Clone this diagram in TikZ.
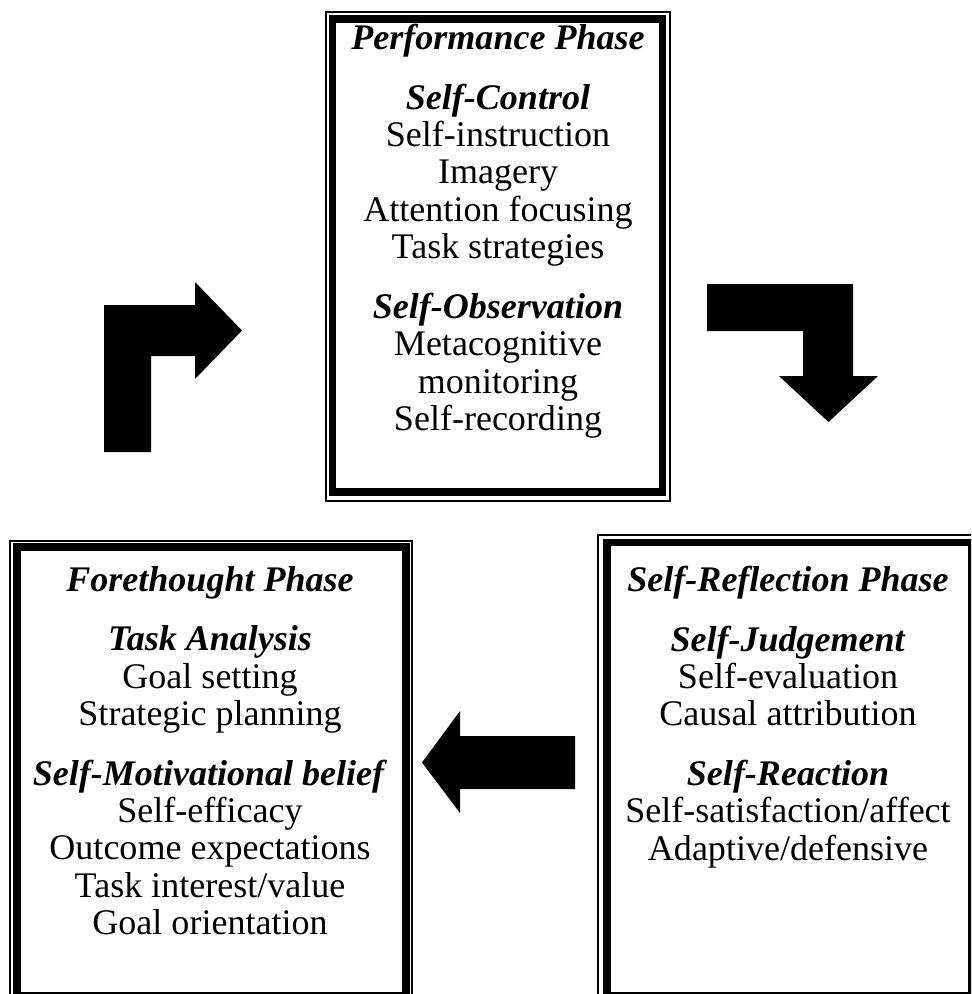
\documentclass[tikz,border=0pt]{standalone}
\usepackage{fontspec}
\setmainfont{Liberation Serif}

\tikzset{
  thinframe/.style={draw=black, line width=1.1pt},
  thickframe/.style={draw=black, line width=4pt},
  phasetext/.style={align=center, inner sep=0pt, anchor=north,
    font=\fontsize{20.5pt}{21.3pt}\selectfont},
  blockarrow/.style={fill=black}
}
\newcommand{\hd}[1]{\textbf{\textit{#1}}}

\begin{document}
\begin{tikzpicture}[x=0.02cm, y=-0.02cm]
 \clip (0,0) rectangle (971,994);

 % frames
 \draw[thinframe] (326,12) rectangle (670,501);
 \draw[thickframe] (332.5,19) rectangle (662.5,492);
 \draw[thinframe] (10,541) rectangle (412,1003);
 \draw[thickframe] (17,547) rectangle (406,996);
 \draw[thinframe] (598,535) rectangle (978,1003);
 \draw[thickframe] (607,542.5) rectangle (972,996);

 % phases
 \node[phasetext] (perf) at (498,24) {\hd{Performance Phase}\\[0.44cm]
   \hd{Self-Control}\\ Self-instruction\\ Imagery\\ Attention focusing\\ Task strategies\\[0.44cm]
   \hd{Self-Observation}\\ Metacognitive\\ monitoring\\ Self-recording};
 \node[phasetext] (fore) at (210,566) {\hd{Forethought Phase}\\[0.44cm]
   \hd{Task Analysis}\\ Goal setting\\ Strategic planning\\[0.44cm]
   \hd{Self-Motivational belief}\\ Self-efficacy\\ Outcome expectations\\ Task interest/value\\ Goal orientation};
 \node[phasetext] (refl) at (788,566) {\hd{Self-Reflection Phase}\\[0.44cm]
   \hd{Self-Judgement}\\ Self-evaluation\\ Causal attribution\\[0.44cm]
   \hd{Self-Reaction}\\ Self-satisfaction/affect\\ Adaptive/defensive};

 % arrows
 \fill[blockarrow] (104,452) -- (104,305) -- (195,305) -- (195,282) -- (242,330.5)
   -- (195,379) -- (195,356) -- (151,356) -- (151,452) -- cycle;
 \fill[blockarrow] (707,284) -- (853,284) -- (853,376) -- (878,376) -- (828.5,422)
   -- (779,376) -- (803,376) -- (803,331) -- (707,331) -- cycle;
 \fill[blockarrow] (575,736) -- (575,789) -- (460,789) -- (460,813) -- (422,762.5)
   -- (460,711) -- (460,736) -- cycle;
\end{tikzpicture}
\end{document}
